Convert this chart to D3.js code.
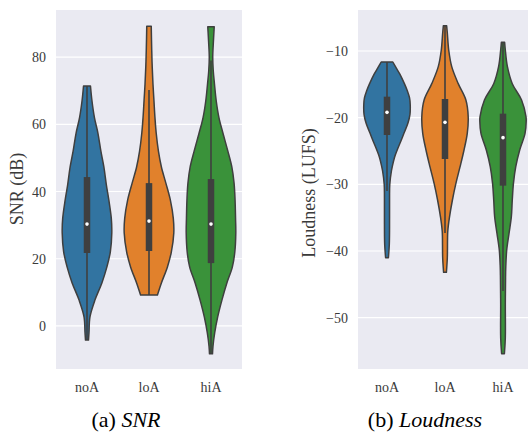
<!DOCTYPE html>
<html lang="en">
<head>
  <meta charset="UTF-8">
  <title>Violins</title>
  <style>
    body { margin: 0; background: #fff; }
    text { font-family: "Liberation Serif", serif; }
  </style>
</head>
<body>
  <svg width="528" height="432"></svg>
  <script src="https://cdn.jsdelivr.net/npm/d3@7"></script>
  <script>
    var categories = ['noA', 'loA', 'hiA']
    var colors = ['#3274a1', '#e1812c', '#3a923a']

    var snrTicks = [0, 20, 40, 60, 80]
    var loudTicks = [-50, -40, -30, -20, -10]

    // violin outlines: [value, relative density]
    var snrNoA = [[-4.2, .06], [-2, .08], [2.7, .12], [7.7, .32], [12.8, .6], [17.5, .8], [22, .94], [27.7, 1], [32, .98], [37.5, .88], [42, .78], [47.3, .68], [52, .56], [57.4, .44], [62, .3], [67, .2], [71.4, .14]]
    var snrLoA = [[9.2, .34], [12.8, .5], [17.5, .74], [22, .9], [27.7, 1], [32, .98], [37.5, .86], [42.5, .68], [47.3, .5], [52, .38], [57.4, .29], [62, .24], [67, .2], [72, .16], [77, .13], [82, .11], [89.2, .09]]
    var snrHiA = [[-8.3, .06], [-6, .08], [-2, .15], [2.7, .27], [7.7, .44], [12.8, .64], [17.5, .86], [22, .96], [27.7, 1], [32, .99], [37.5, .97], [42.5, .93], [47.3, .84], [52, .68], [57.4, .48], [62, .32], [67, .21], [72, .14], [76, .09], [80, .07], [85, .1], [89, .13]]

    var loudNoA = [[-41, .06], [-39, .1], [-35, .11], [-32, .11], [-30, .12], [-28, .19], [-27.3, .23], [-26, .32], [-24.85, .44], [-23.5, .6], [-22.35, .73], [-20.85, .9], [-19.5, .99], [-18, 1], [-17, .97], [-16, .88], [-14.9, .75], [-13.5, .56], [-12.5, .39], [-11.65, .25]]
    var loudLoA = [[-43.2, .06], [-41, .1], [-38, .11], [-37, .12], [-35, .19], [-32.35, .32], [-29.85, .47], [-27.35, .65], [-24.85, .82], [-22.35, .96], [-19.85, 1], [-17.35, .9], [-14.9, .57], [-12.35, .29], [-9.85, .16], [-7.3, .1], [-6.2, .07]]
    var loudHiA = [[-55.4, .06], [-53, .1], [-48, .1], [-44, .11], [-42.35, .12], [-39.85, .16], [-37.35, .26], [-34.85, .36], [-32.35, .4], [-29.85, .45], [-27.35, .55], [-24.85, .72], [-22.35, .95], [-20.5, 1], [-19.85, .99], [-17.35, .8], [-14.9, .4], [-12.35, .19], [-9.85, .1], [-8.7, .07]]

    // inner box: [q1, median, q3, whisker low, whisker high]
    var snrBoxes = [[21.7, 30.3, 44.3, -4.2, 71.4], [22.3, 31.2, 42.5, 9.2, 70.2], [18.7, 30.3, 43.7, -8.3, 79]]
    var loudBoxes = [[-22.6, -19.2, -16.85, -31, -11.65], [-26.2, -20.7, -17.2, -37.3, -6.2], [-30.2, -23, -19.4, -46, -8.7]]

    var svg = d3.select('svg')
    var plotTop = 10, plotBottom = 369

    function panel(opts) {
      var g = svg.append('g')
      var x = d3.scaleBand().domain(categories).range([opts.left, opts.right])
      var y = d3.scaleLinear().domain(opts.domain).range([plotBottom, plotTop])

      g.append('rect')
        .attr('x', opts.left).attr('y', plotTop)
        .attr('width', opts.right - opts.left).attr('height', plotBottom - plotTop)
        .attr('fill', '#eaeaf2')

      // grid lines
      g.selectAll('.grid').data(opts.ticks).enter().append('line')
        .attr('x1', opts.left).attr('x2', opts.right)
        .attr('y1', function(d) { return y(d) }).attr('y2', function(d) { return y(d) })
        .attr('stroke', '#fff').attr('stroke-width', 1.2)

      var yAxis = d3.axisLeft(y).tickValues(opts.ticks).tickSize(0).tickPadding(10)
        .tickFormat(function(d) { return String(d).replace('-', '\u2212') })
      var ya = g.append('g').attr('transform', 'translate(' + opts.left + ',0)').call(yAxis)
      ya.select('.domain').remove()
      ya.selectAll('text').attr('font-family', '"Liberation Serif", serif').attr('font-size', 14).attr('fill', '#3a3a3a')

      var xAxis = d3.axisBottom(x).tickSize(0).tickPadding(13)
      var xa = g.append('g').attr('transform', 'translate(0,' + plotBottom + ')').call(xAxis)
      xa.select('.domain').remove()
      xa.selectAll('text').attr('font-family', '"Liberation Serif", serif').attr('font-size', 14).attr('fill', '#3a3a3a')

      g.append('text')
        .attr('transform', 'translate(' + opts.labelX + ',' + opts.labelY + ') rotate(-90)')
        .attr('text-anchor', 'middle').attr('dominant-baseline', 'central')
        .attr('font-size', 18).attr('fill', '#3a3a3a')
        .text(opts.label)

      var half = x.bandwidth() * 0.4
      var clipId = 'clip' + opts.left
      svg.append('clipPath').attr('id', clipId).append('rect')
        .attr('x', opts.left).attr('y', plotTop)
        .attr('width', opts.right - opts.left).attr('height', plotBottom - plotTop)
      var marks = g.append('g').attr('clip-path', 'url(#' + clipId + ')')

      categories.forEach(function(c, i) {
        var cx = x(c) + x.bandwidth() / 2
        var area = d3.area()
          .curve(d3.curveCatmullRom)
          .y(function(d) { return y(d[0]) })
          .x0(function(d) { return cx - d[1] * half })
          .x1(function(d) { return cx + d[1] * half })
        marks.append('path')
          .datum(opts.violins[i])
          .attr('d', function(d) { return area(d) + 'Z' })
          .attr('fill', colors[i])
          .attr('stroke', '#3f3f3f').attr('stroke-width', 1.5)
          .attr('stroke-linejoin', 'round')

        var b = opts.boxes[i]
        marks.append('line')
          .attr('x1', cx).attr('x2', cx)
          .attr('y1', y(b[3])).attr('y2', y(b[4]))
          .attr('stroke', '#3f3f3f').attr('stroke-width', 1.6)
        marks.append('line')
          .attr('x1', cx).attr('x2', cx)
          .attr('y1', y(b[0])).attr('y2', y(b[2]))
          .attr('stroke', '#3f3f3f').attr('stroke-width', 6.5)
        marks.append('circle')
          .attr('cx', cx).attr('cy', y(b[1])).attr('r', 1.8)
          .attr('fill', '#fff')
      })

      var cap = svg.append('text')
        .attr('x', opts.capX).attr('y', 427)
        .attr('text-anchor', 'middle')
        .attr('font-size', 22).attr('fill', '#000')
      cap.append('tspan').text(opts.capPrefix + ' ')
      cap.append('tspan').attr('font-style', 'italic').text(opts.capName)
    }

    panel({
      left: 56, right: 242, domain: [-12.8, 94], ticks: snrTicks,
      violins: [snrNoA, snrLoA, snrHiA], boxes: snrBoxes,
      label: 'SNR (dB)', labelX: 17, labelY: 189,
      capX: 126, capPrefix: '(a)', capName: 'SNR'
    })

    panel({
      left: 358, right: 532, domain: [-57.7, -3.85], ticks: loudTicks,
      violins: [loudNoA, loudLoA, loudHiA], boxes: loudBoxes,
      label: 'Loudness (LUFS)', labelX: 309, labelY: 193,
      capX: 425, capPrefix: '(b)', capName: 'Loudness'
    })
  </script>
</body>
</html>
